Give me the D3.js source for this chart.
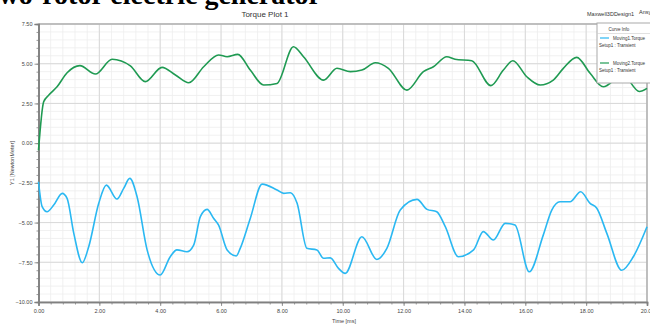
<!DOCTYPE html>
<html>
<head>
<meta charset="utf-8">
<script src="https://cdn.jsdelivr.net/npm/d3@7"></script>
<style>
  body { margin: 0; background: #fff; }
  svg { display: block; font-family: "Liberation Sans", Arial, sans-serif; }
</style>
</head>
<body>
<div id="chart"></div>
<script>
// time [ms] and torque values
var greenTime = [0, 0.17, 0.34, 0.61, 0.94, 1.36, 1.87, 2.42, 3.02, 3.51, 4.06, 4.5, 4.94, 5.43, 5.92, 6.2, 6.55, 6.96, 7.4, 7.84, 8.38, 8.71, 9.37, 9.81, 10.25, 10.63, 11.07, 11.5, 12.11, 12.65, 12.98, 13.42, 13.69, 14.24, 14.87, 15.28, 15.59, 16.05, 16.49, 16.92, 17.25, 17.69, 18.13, 18.56, 19.2, 19.75, 20];
var greenVal = [-0.45, 2.6, 3.03, 3.55, 4.43, 4.88, 4.35, 5.28, 4.86, 3.87, 4.77, 4.29, 3.8, 4.81, 5.55, 5.44, 5.59, 4.6, 3.66, 3.76, 6.07, 5.44, 3.97, 4.71, 4.5, 4.6, 5.06, 4.71, 3.34, 4.5, 4.81, 5.44, 5.28, 5.19, 3.62, 4.6, 5.19, 4.18, 3.66, 3.97, 4.71, 5.4, 4.4, 3.55, 4.3, 3.25, 3.45];

var blueTime = [0, 0.12, 0.28, 0.5, 0.78, 0.94, 1.16, 1.44, 1.65, 1.98, 2.23, 2.58, 2.8, 3.0, 3.24, 3.57, 4.0, 4.33, 4.55, 4.88, 5.1, 5.32, 5.54, 5.76, 5.92, 6.2, 6.5, 6.63, 6.96, 7.35, 7.84, 8.06, 8.28, 8.5, 8.82, 9.15, 9.37, 9.59, 9.86, 10.08, 10.63, 11.12, 11.45, 11.89, 12.44, 12.77, 13.09, 13.37, 13.8, 14.3, 14.62, 14.95, 15.34, 15.66, 16.13, 16.59, 16.87, 17.14, 17.47, 17.82, 18.13, 18.35, 18.68, 19.17, 19.55, 20];
var blueVal = [-2.43, -4.0, -4.32, -3.9, -3.16, -3.48, -5.68, -7.53, -6.52, -3.79, -2.64, -3.52, -2.85, -2.22, -3.37, -6.72, -8.3, -7.15, -6.72, -6.84, -6.42, -4.63, -4.17, -4.74, -5.16, -6.72, -7.1, -6.62, -4.74, -2.58, -2.95, -3.16, -3.12, -3.79, -6.62, -6.72, -7.25, -7.22, -7.88, -8.2, -5.89, -7.32, -6.62, -4.21, -3.54, -4.17, -4.32, -5.26, -7.15, -6.72, -5.57, -6.1, -5.05, -5.16, -8.1, -5.79, -4.21, -3.69, -3.69, -3.06, -3.79, -4.1, -5.68, -8.0, -7.15, -5.26];

var xTicks = [0, 2, 4, 6, 8, 10, 12, 14, 16, 18, 20];
var yTicks = [-10, -7.5, -5, -2.5, 0, 2.5, 5, 7.5];
var seriesNames = ['Moving1.Torque', 'Moving2.Torque'];

var width = 650, height = 325;
var blue = '#2ab8f2', green = '#1f9a52';

var svg = d3.select('#chart').append('svg')
  .attr('width', width)
  .attr('height', height);

var x = d3.scaleLinear().domain([0, 20]).range([38.5, 647]);
var y = d3.scaleLinear().domain([-10, 7.5]).range([302, 24]);

// cropped caption from the page above
svg.append('text')
  .attr('x', 321).attr('y', 4)
  .attr('text-anchor', 'end')
  .style('font-family', '"Liberation Serif", "Times New Roman", serif')
  .style('font-weight', 'bold')
  .style('font-size', '28px')
  .text('two-rotor electric generator');

svg.append('text').attr('x', 265).attr('y', 17).attr('text-anchor', 'middle')
  .style('font-size', '8px').attr('fill', '#333').text('Torque Plot 1');
svg.append('text').attr('x', 587).attr('y', 16)
  .style('font-size', '5.5px').attr('fill', '#333').text('Maxwell3DDesign1');
svg.append('text').attr('x', 639).attr('y', 14)
  .style('font-size', '5.5px').attr('fill', '#333').text('Ansys');

// grid
var grid = svg.append('g');
grid.selectAll('.vminor').data(d3.range(0, 20.01, 0.4)).enter().append('line')
  .attr('x1', d => x(d)).attr('x2', d => x(d)).attr('y1', y(7.5)).attr('y2', y(-10))
  .attr('stroke', '#eeeeee').attr('stroke-width', 0.8);
grid.selectAll('.hminor').data(d3.range(-10, 7.51, 0.5)).enter().append('line')
  .attr('x1', x(0)).attr('x2', x(20)).attr('y1', d => y(d)).attr('y2', d => y(d))
  .attr('stroke', '#eeeeee').attr('stroke-width', 0.8);
grid.selectAll('.vmajor').data(xTicks).enter().append('line')
  .attr('x1', d => x(d)).attr('x2', d => x(d)).attr('y1', y(7.5)).attr('y2', y(-10))
  .attr('stroke', '#d9d9d9').attr('stroke-width', 1);
grid.selectAll('.hmajor').data(yTicks).enter().append('line')
  .attr('x1', x(0)).attr('x2', x(20)).attr('y1', d => y(d)).attr('y2', d => y(d))
  .attr('stroke', '#d9d9d9').attr('stroke-width', 1);

// frame top and right
svg.append('line').attr('x1', x(0)).attr('x2', x(20)).attr('y1', y(7.5)).attr('y2', y(7.5))
  .attr('stroke', '#b0b0b0').attr('stroke-width', 1.5);
svg.append('line').attr('x1', x(20)).attr('x2', x(20)).attr('y1', y(7.5)).attr('y2', y(-10))
  .attr('stroke', '#b0b0b0').attr('stroke-width', 1.5);

// axes
var yAxisMinor = d3.axisLeft(y).tickValues(d3.range(-10, 7.51, 0.5)).tickSize(2).tickFormat('');
var yAxis = d3.axisLeft(y).tickValues(yTicks).tickSize(4).tickFormat(d3.format('.2f'));
var xAxisMinor = d3.axisBottom(x).tickValues(d3.range(0, 20.01, 0.4)).tickSize(2.5).tickFormat('');
var xAxis = d3.axisBottom(x).tickValues(xTicks).tickSize(4).tickFormat(d3.format('.2f'));

function styleAxis(g) {
  g.selectAll('.domain').attr('stroke', '#808080').attr('stroke-width', 1.6);
  g.selectAll('.tick line').attr('stroke', '#808080').attr('stroke-width', 0.8);
  g.selectAll('.tick text').attr('fill', '#444').style('font-size', '5.5px')
    .style('font-family', '"Liberation Sans", Arial, sans-serif');
}

svg.append('g').attr('transform', `translate(${x(0)},0)`).call(yAxisMinor).call(styleAxis);
svg.append('g').attr('transform', `translate(${x(0)},0)`).call(yAxis).call(styleAxis)
  .selectAll('.tick text').attr('x', -6);
svg.append('g').attr('transform', `translate(0,${y(-10)})`).call(xAxisMinor).call(styleAxis);
svg.append('g').attr('transform', `translate(0,${y(-10)})`).call(xAxis).call(styleAxis)
  .selectAll('.tick text').attr('y', 7);

svg.append('text')
  .attr('transform', `translate(14,${(y(7.5) + y(-10)) / 2}) rotate(-90)`)
  .attr('text-anchor', 'middle')
  .style('font-size', '5.5px').attr('fill', '#444')
  .text('Y1 [NewtonMeter]');
svg.append('text').attr('x', 344).attr('y', 323).attr('text-anchor', 'middle')
  .style('font-size', '5.5px').attr('fill', '#444').text('Time [ms]');

// curves
var line = d3.line()
  .x(d => x(d[0]))
  .y(d => y(d[1]))
  .curve(d3.curveMonotoneX);

var blueData = blueTime.map((t, i) => [t, blueVal[i]]);
var greenData = greenTime.map((t, i) => [t, greenVal[i]]);

svg.append('path').datum(greenData).attr('d', line)
  .attr('fill', 'none').attr('stroke', green).attr('stroke-width', 1.6);
svg.append('path').datum(blueData).attr('d', line)
  .attr('fill', 'none').attr('stroke', blue).attr('stroke-width', 1.6);

// legend box
var legend = svg.append('g').attr('transform', 'translate(597,23)');
legend.append('rect').attr('width', 60).attr('height', 60)
  .attr('fill', '#fff').attr('stroke', '#aaa').attr('stroke-width', 1);
legend.append('text').attr('x', 22).attr('y', 8).attr('text-anchor', 'middle')
  .style('font-size', '4.5px').attr('fill', '#333').text('Curve Info');
legend.append('line').attr('x1', 0).attr('x2', 60).attr('y1', 10.5).attr('y2', 10.5)
  .attr('stroke', '#ccc').attr('stroke-width', 0.6);

var entries = legend.selectAll('.entry').data(seriesNames).enter().append('g')
  .attr('transform', (d, i) => `translate(0,${15 + i * 25})`);
entries.append('line').attr('x1', 3).attr('x2', 12).attr('y1', 0).attr('y2', 0)
  .attr('stroke', (d, i) => i == 0 ? blue : green).attr('stroke-width', 1.2);
entries.append('text').attr('x', 16).attr('y', 2)
  .style('font-size', '4.5px').attr('fill', '#333').text(d => d);
entries.append('text').attr('x', 2).attr('y', 9)
  .style('font-size', '4.5px').attr('fill', '#333').text('Setup1 : Transient');
</script>
</body>
</html>
